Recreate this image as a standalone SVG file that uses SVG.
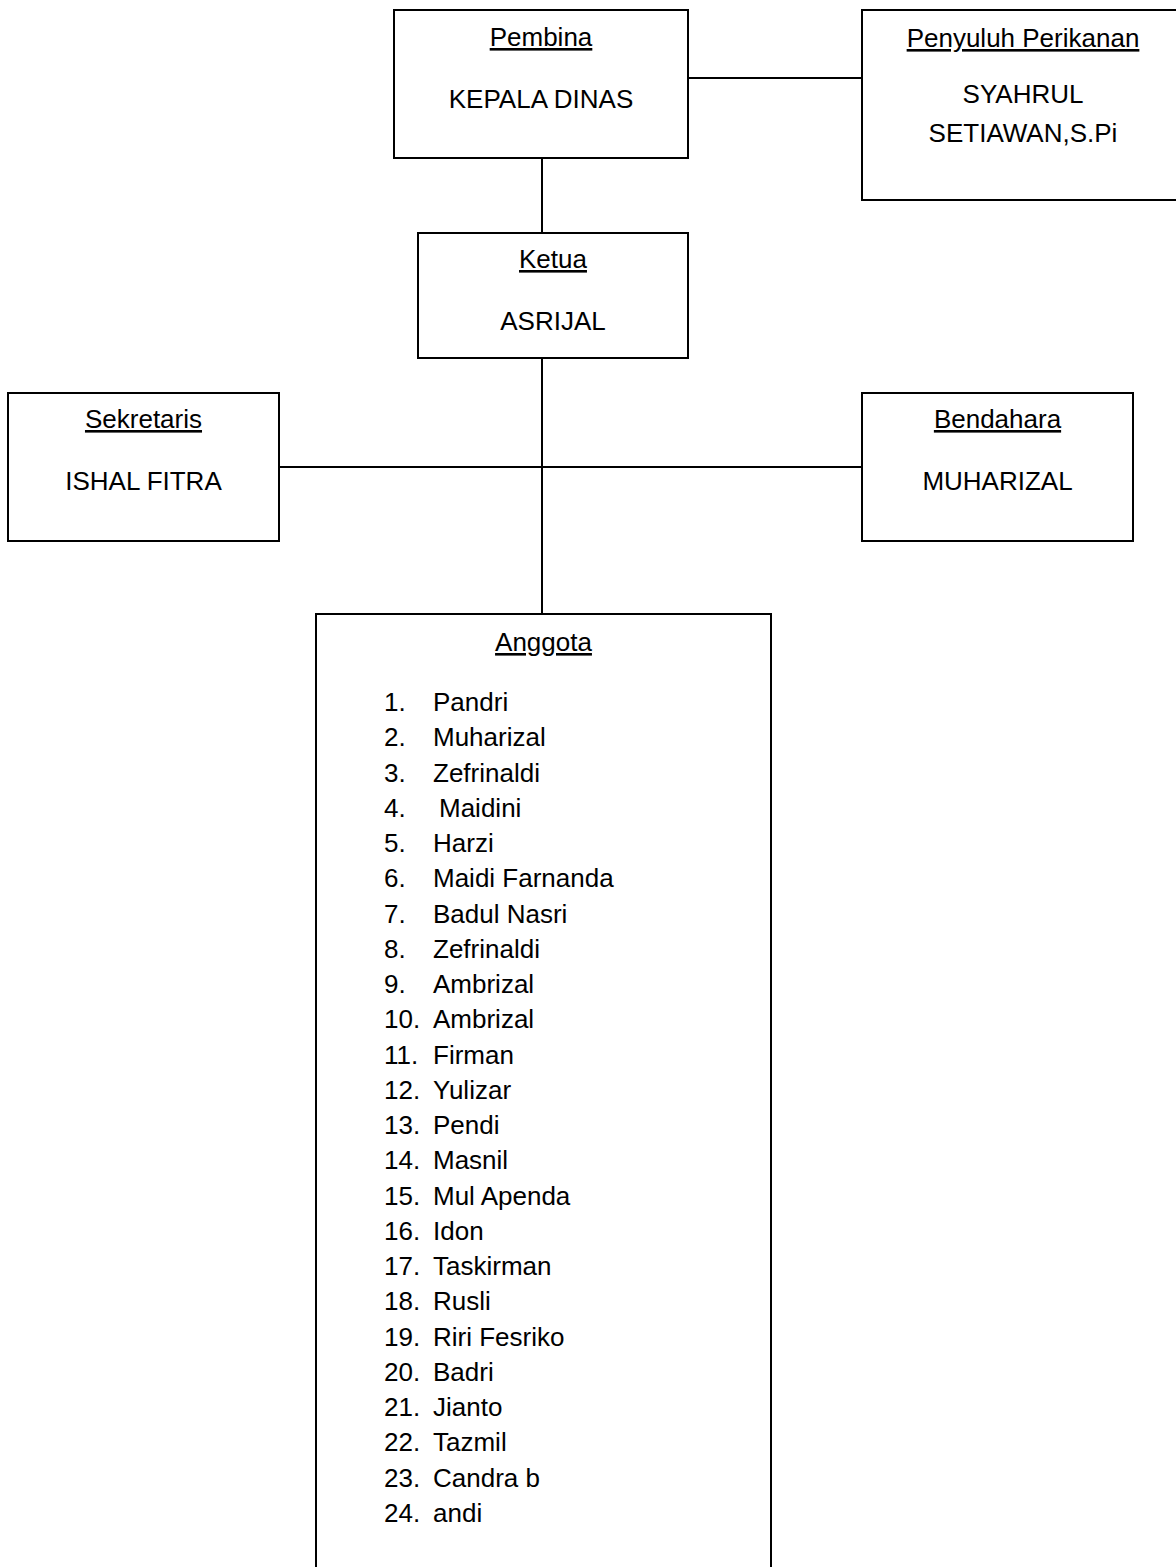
<svg xmlns="http://www.w3.org/2000/svg" width="1176" height="1567" viewBox="0 0 1176 1567">
<style>
.box{fill:#fff;stroke:#000;stroke-width:2}
.ln{stroke:#000;stroke-width:2;fill:none}
text{font-family:"Liberation Sans",Arial,sans-serif;font-size:26px;fill:#000}
.c{text-anchor:middle}
.u{text-decoration:underline}
</style>
<rect width="1176" height="1567" fill="#fff"/>
<g id="connectors">
<line class="ln" x1="688" y1="78" x2="862" y2="78"/>
<line class="ln" x1="542" y1="158" x2="542" y2="233"/>
<line class="ln" x1="542" y1="358" x2="542" y2="614"/>
<line class="ln" x1="279" y1="467" x2="862" y2="467"/>
</g>
<g id="pembina">
<rect class="box" x="394" y="10" width="294" height="148"/>
<text class="c u" x="541" y="46">Pembina</text>
<text class="c" x="541" y="108">KEPALA DINAS</text>
</g>
<g id="penyuluh">
<rect class="box" x="862" y="10" width="322" height="190"/>
<text class="c u" x="1023" y="47">Penyuluh Perikanan</text>
<text class="c" x="1023" y="103">SYAHRUL</text>
<text class="c" x="1023" y="142">SETIAWAN,S.Pi</text>
</g>
<g id="ketua">
<rect class="box" x="418" y="233" width="270" height="125"/>
<text class="c u" x="553" y="268">Ketua</text>
<text class="c" x="553" y="330">ASRIJAL</text>
</g>
<g id="sekretaris">
<rect class="box" x="8" y="393" width="271" height="148"/>
<text class="c u" x="143.5" y="428">Sekretaris</text>
<text class="c" x="143.5" y="490">ISHAL FITRA</text>
</g>
<g id="bendahara">
<rect class="box" x="862" y="393" width="271" height="148"/>
<text class="c u" x="997.5" y="428">Bendahara</text>
<text class="c" x="997.5" y="490">MUHARIZAL</text>
</g>
<g id="anggota">
<rect class="box" x="316" y="614" width="455" height="980"/>
<text class="c u" x="543.5" y="651">Anggota</text>
<g>
<text x="384" y="711">1.</text><text x="433" y="711">Pandri</text>
<text x="384" y="746.25">2.</text><text x="433" y="746.25">Muharizal</text>
<text x="384" y="781.5">3.</text><text x="433" y="781.5">Zefrinaldi</text>
<text x="384" y="816.75">4.</text><text x="439" y="816.75">Maidini</text>
<text x="384" y="852">5.</text><text x="433" y="852">Harzi</text>
<text x="384" y="887.25">6.</text><text x="433" y="887.25">Maidi Farnanda</text>
<text x="384" y="922.5">7.</text><text x="433" y="922.5">Badul Nasri</text>
<text x="384" y="957.75">8.</text><text x="433" y="957.75">Zefrinaldi</text>
<text x="384" y="993">9.</text><text x="433" y="993">Ambrizal</text>
<text x="384" y="1028.25">10.</text><text x="433" y="1028.25">Ambrizal</text>
<text x="384" y="1063.5">11.</text><text x="433" y="1063.5">Firman</text>
<text x="384" y="1098.75">12.</text><text x="433" y="1098.75">Yulizar</text>
<text x="384" y="1134">13.</text><text x="433" y="1134">Pendi</text>
<text x="384" y="1169.25">14.</text><text x="433" y="1169.25">Masnil</text>
<text x="384" y="1204.5">15.</text><text x="433" y="1204.5">Mul Apenda</text>
<text x="384" y="1239.75">16.</text><text x="433" y="1239.75">Idon</text>
<text x="384" y="1275">17.</text><text x="433" y="1275">Taskirman</text>
<text x="384" y="1310.25">18.</text><text x="433" y="1310.25">Rusli</text>
<text x="384" y="1345.5">19.</text><text x="433" y="1345.5">Riri Fesriko</text>
<text x="384" y="1380.75">20.</text><text x="433" y="1380.75">Badri</text>
<text x="384" y="1416">21.</text><text x="433" y="1416">Jianto</text>
<text x="384" y="1451.25">22.</text><text x="433" y="1451.25">Tazmil</text>
<text x="384" y="1486.5">23.</text><text x="433" y="1486.5">Candra b</text>
<text x="384" y="1521.75">24.</text><text x="433" y="1521.75">andi</text>
</g>
</g>
</svg>
